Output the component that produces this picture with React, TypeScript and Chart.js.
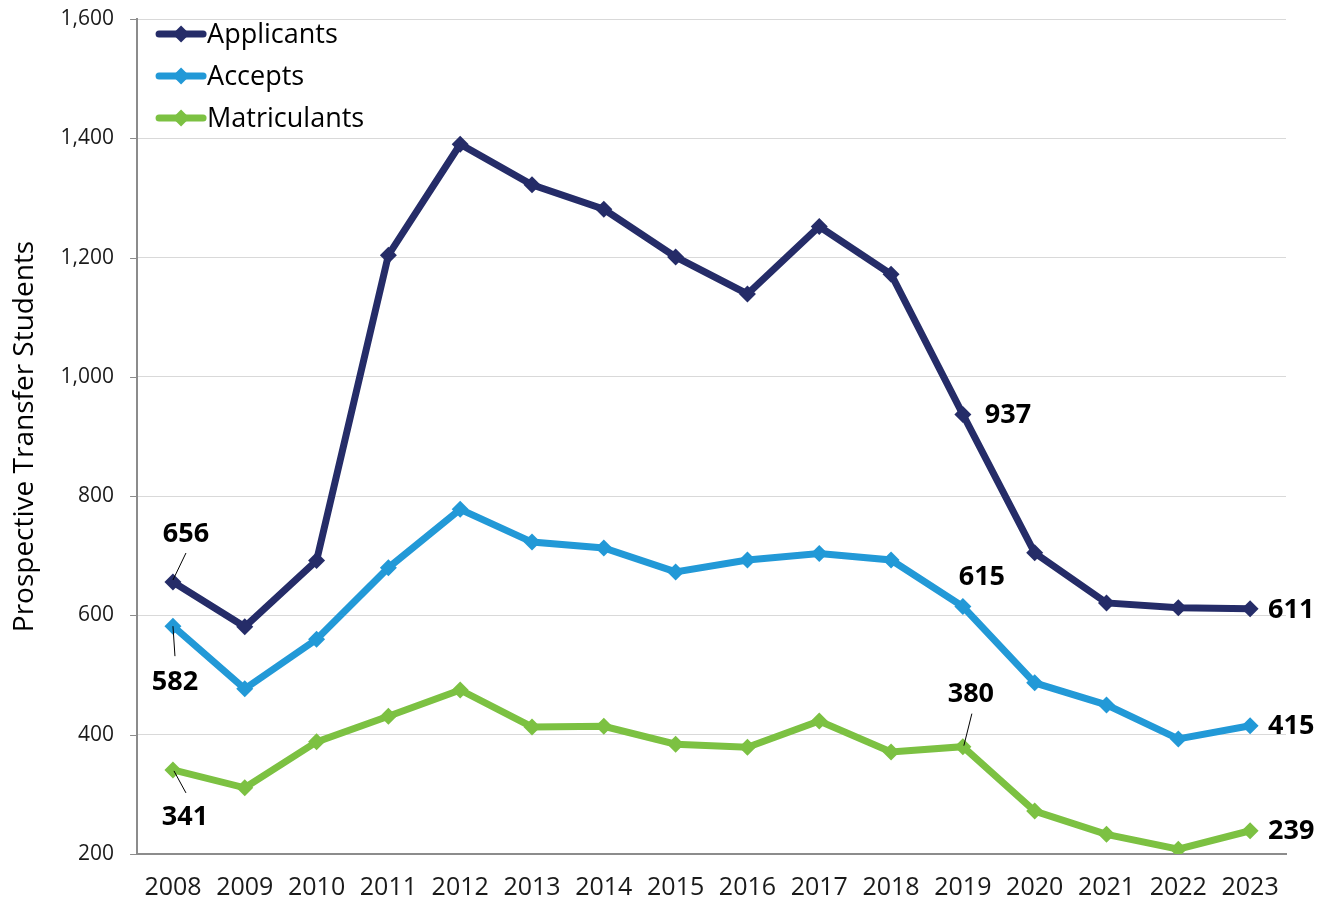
import React, { useEffect, useRef } from "react";
import { Chart, registerables } from "chart.js";

Chart.register(...registerables);

const years = ["2008","2009","2010","2011","2012","2013","2014","2015","2016","2017","2018","2019","2020","2021","2022","2023"];
const applicants = [656, 581, 692, 1204, 1390, 1322, 1281, 1201, 1139, 1252, 1172, 937, 705, 621, 613, 611];
const accepts = [582, 477, 560, 680, 778, 723, 713, 673, 693, 704, 693, 615, 487, 450, 393, 415];
const matriculants = [341, 311, 388, 431, 475, 413, 414, 384, 379, 423, 371, 380, 272, 233, 208, 239];
const seriesNames = ["Applicants", "Accepts", "Matriculants"];
const yTicks = [200, 400, 600, 800, 1000, 1200, 1400, 1600];

const COLORS = ["#252c68", "#2299d7", "#7cc142"];
const AXIS_COLOR = "#8c8c8c";
const FONT = "'Open Sans', sans-serif";

// annotation placement relative to the data point
const labelSpecs: Array<{ ds: number; i: number; dx: number; dy: number; align: CanvasTextAlign; leader?: [number, number, number, number] }> = [
  { ds: 0, i: 0, dx: 13, dy: -49, align: "center", leader: [0, -2, 13, -29] },
  { ds: 1, i: 0, dx: 2, dy: 55, align: "center", leader: [0, 0, 2, 30] },
  { ds: 2, i: 0, dx: 12, dy: 46, align: "center", leader: [1, 1, 13, 23] },
  { ds: 0, i: 11, dx: 22, dy: 0, align: "left" },
  { ds: 1, i: 11, dx: 19, dy: -30, align: "center" },
  { ds: 2, i: 11, dx: 8, dy: -53, align: "center", leader: [1, -1, 9, -33] },
  { ds: 0, i: 15, dx: 18, dy: 0, align: "left" },
  { ds: 1, i: 15, dx: 18, dy: 0, align: "left" },
  { ds: 2, i: 15, dx: 18, dy: 0, align: "left" },
];

const tickMarkPlugin = {
  id: "tickMarks",
  afterDraw(chart: any) {
    const ctx = chart.ctx;
    const ys = chart.scales.y;
    const left = chart.chartArea.left;
    ctx.save();
    ctx.strokeStyle = AXIS_COLOR;
    ctx.lineWidth = 1;
    yTicks.forEach((v) => {
      const y = Math.round(ys.getPixelForValue(v)) + 0.5;
      ctx.beginPath();
      ctx.moveTo(left - 7, y);
      ctx.lineTo(left, y);
      ctx.stroke();
    });
    ctx.restore();
  },
};

const labelPlugin = {
  id: "labelPlugin",
  afterDatasetsDraw(chart: any) {
    const ctx = chart.ctx;
    ctx.save();
    ctx.font = `bold 27px ${FONT}`;
    ctx.fillStyle = "#000";
    ctx.textBaseline = "middle";
    labelSpecs.forEach((s) => {
      const pt = chart.getDatasetMeta(s.ds).data[s.i];
      const v = chart.data.datasets[s.ds].data[s.i];
      const x = pt.x, y = pt.y;
      if (s.leader) {
        ctx.strokeStyle = "#000";
        ctx.lineWidth = 1;
        ctx.beginPath();
        ctx.moveTo(x + s.leader[0], y + s.leader[1]);
        ctx.lineTo(x + s.leader[2], y + s.leader[3]);
        ctx.stroke();
      }
      ctx.textAlign = s.align;
      ctx.fillText(String(v), x + s.dx, y + s.dy + 1);
    });
    ctx.restore();
  },
};

const legendPlugin = {
  id: "customLegend",
  afterDraw(chart: any) {
    const ctx = chart.ctx;
    const left = chart.chartArea.left;
    const top = chart.chartArea.top;
    ctx.save();
    seriesNames.forEach((name, k) => {
      const y = top + 15 + k * 42;
      ctx.strokeStyle = COLORS[k];
      ctx.lineWidth = 7;
      ctx.lineCap = "round";
      ctx.beginPath();
      ctx.moveTo(left + 22, y);
      ctx.lineTo(left + 66, y);
      ctx.stroke();
      ctx.fillStyle = COLORS[k];
      ctx.beginPath();
      const cx = left + 44, r = 8.5;
      ctx.moveTo(cx, y - r);
      ctx.lineTo(cx + r, y);
      ctx.lineTo(cx, y + r);
      ctx.lineTo(cx - r, y);
      ctx.closePath();
      ctx.fill();
      ctx.fillStyle = "#000";
      ctx.font = `27px ${FONT}`;
      ctx.textAlign = "left";
      ctx.textBaseline = "middle";
      ctx.fillText(name, left + 70, y + 1);
    });
    ctx.restore();
  },
};

export default function App() {
  const ref = useRef<HTMLCanvasElement | null>(null);
  useEffect(() => {
    if (!ref.current) return;
    const seriesData = [applicants, accepts, matriculants];
    const chart = new Chart(ref.current, {
      type: "line",
      data: {
        labels: years,
        datasets: seriesNames.map((n, k) => ({
          label: n,
          data: seriesData[k],
          borderColor: COLORS[k],
          backgroundColor: COLORS[k],
          borderWidth: 7,
          pointStyle: "rectRot",
          pointRadius: 8.5,
          pointBorderWidth: 0,
          tension: 0,
        })),
      },
      options: {
        animation: false,
        responsive: true,
        maintainAspectRatio: false,
        layout: { padding: { top: 19, right: 41, bottom: 3, left: 3 } },
        plugins: {
          legend: { display: false },
          tooltip: { enabled: false },
        },
        scales: {
          x: {
            offset: true,
            grid: { display: false, offset: true, tickLength: 18 },
            border: { display: true, color: AXIS_COLOR, width: 2 },
            ticks: { color: "#1a1a1a", font: { family: FONT, size: 25 }, padding: 1, maxRotation: 0 },
          },
          y: {
            min: 200,
            max: 1600,
            afterBuildTicks: (axis: any) => {
              axis.ticks = yTicks.map((v) => ({ value: v }));
            },
            grid: { color: "#d9d9d9", lineWidth: 1, tickColor: "rgba(0,0,0,0)", tickLength: 23 },
            border: { display: true, color: AXIS_COLOR, width: 2 },
            ticks: {
              color: "#1a1a1a",
              font: { family: FONT, size: 21 },
              padding: 0,
              callback: (v: any) => Number(v).toLocaleString("en-US"),
            },
            title: {
              display: true,
              text: "Prospective Transfer Students",
              color: "#000",
              font: { family: FONT, size: 28 },
              padding: { top: 5, bottom: 19 },
            },
          },
        },
      },
      plugins: [labelPlugin, legendPlugin, tickMarkPlugin],
    });
    return () => chart.destroy();
  }, []);
  return (
    <div style={{ position: "fixed", left: 0, top: 0, width: 1327, height: 907, background: "#fff" }}>
      <canvas ref={ref} />
    </div>
  );
}
